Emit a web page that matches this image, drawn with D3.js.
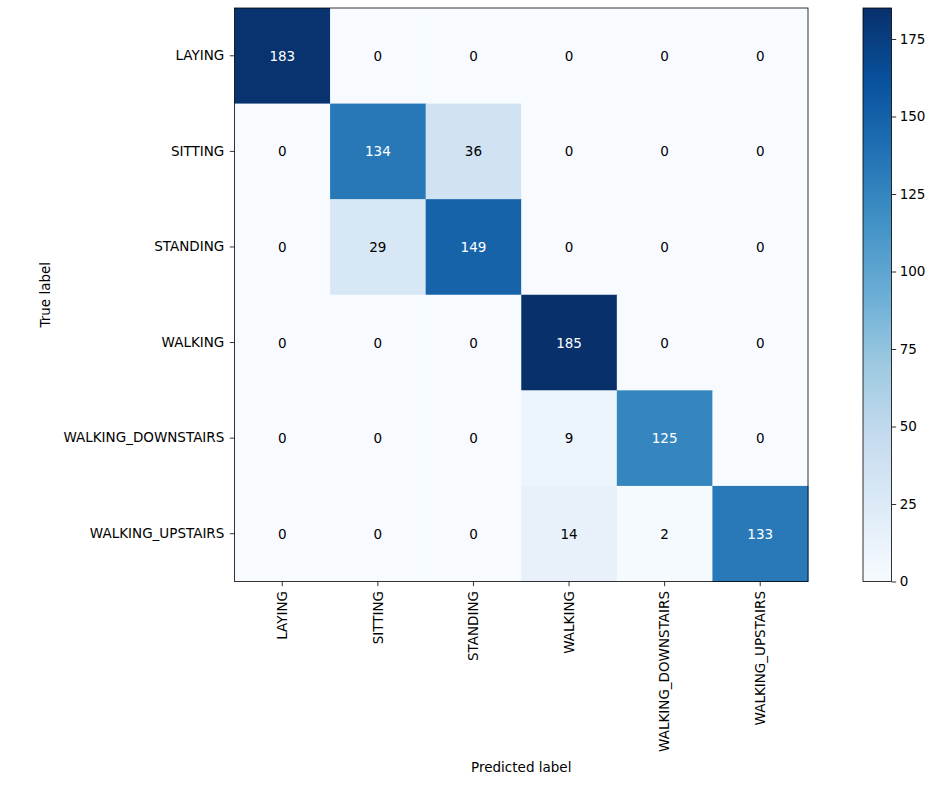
<!DOCTYPE html>
<html>
<head>
<meta charset="utf-8">
<title>Confusion matrix</title>
<script src="https://cdn.jsdelivr.net/npm/d3@7"></script>
<style>
  body { margin: 0; background: #fff; }
  text { font-family: "DejaVu Sans", sans-serif; }
</style>
</head>
<body>
<div id="chart"></div>
<script>
// class names (rows = true label, columns = predicted label)
var labels = ["LAYING", "SITTING", "STANDING", "WALKING", "WALKING_DOWNSTAIRS", "WALKING_UPSTAIRS"];
var row0 = [183, 0, 0, 0, 0, 0];
var row1 = [0, 134, 36, 0, 0, 0];
var row2 = [0, 29, 149, 0, 0, 0];
var row3 = [0, 0, 0, 185, 0, 0];
var row4 = [0, 0, 0, 9, 125, 0];
var row5 = [0, 0, 0, 14, 2, 133];
var matrix = [row0, row1, row2, row3, row4, row5];
var cbTicks = [0, 25, 50, 75, 100, 125, 150, 175];

var width = 942, height = 786;
var plotLeft = 234.5, plotTop = 8, size = 573.5;
var fs = "13.5px";
var vmax = d3.max(matrix, function(r) { return d3.max(r); });

// matplotlib "Blues" is a plain linear ramp over these 9 colours
var blues = ["#f7fbff", "#deebf7", "#c6dbef", "#9ecae1", "#6baed6", "#4292c6", "#2171b5", "#08519c", "#08306b"];
var color = d3.scaleLinear()
  .domain(d3.range(9).map(function(i) { return i / 8 * vmax; }))
  .range(blues)
  .interpolate(d3.interpolateRgb);

var svg = d3.select("#chart").append("svg")
  .attr("width", width)
  .attr("height", height);

var x = d3.scaleBand().domain(labels).range([plotLeft, plotLeft + size]);
var y = d3.scaleBand().domain(labels).range([plotTop, plotTop + size]);

var cells = [];
matrix.forEach(function(r, i) {
  r.forEach(function(v, j) { cells.push({ t: labels[i], p: labels[j], v: v }); });
});

svg.selectAll("rect.cell").data(cells).enter().append("rect")
  .attr("class", "cell")
  .attr("x", function(d) { return x(d.p); })
  .attr("y", function(d) { return y(d.t); })
  .attr("width", x.bandwidth() + 0.5)
  .attr("height", y.bandwidth() + 0.5)
  .attr("fill", function(d) { return color(d.v); });

svg.selectAll("text.val").data(cells).enter().append("text")
  .attr("class", "val")
  .attr("x", function(d) { return x(d.p) + x.bandwidth() / 2; })
  .attr("y", function(d) { return y(d.t) + y.bandwidth() / 2; })
  .attr("text-anchor", "middle")
  .attr("dominant-baseline", "central")
  .style("font-size", fs)
  .attr("fill", function(d) { return d.v > vmax / 2 ? "white" : "black"; })
  .text(function(d) { return d.v; });

// axes
var yAxis = svg.append("g")
  .attr("transform", "translate(" + plotLeft + ",0)")
  .call(d3.axisLeft(y).tickSize(4.7).tickPadding(5.5));
var xAxis = svg.append("g")
  .attr("transform", "translate(0," + (plotTop + size) + ")")
  .call(d3.axisBottom(x).tickSize(4.7).tickPadding(4.5));

xAxis.selectAll("text")
  .attr("transform", "rotate(-90)")
  .attr("text-anchor", "end")
  .attr("x", -9.5)
  .attr("y", 0)
  .attr("dy", "0.35em");

[xAxis, yAxis].forEach(function(g) {
  g.select(".domain").remove();
  g.selectAll("text").style("font-size", fs).style("font-family", "DejaVu Sans, sans-serif").attr("fill", "black");
  g.selectAll("line").attr("stroke", "black").attr("stroke-width", 0.8);
});

svg.append("rect")
  .attr("x", plotLeft).attr("y", plotTop)
  .attr("width", size).attr("height", size)
  .attr("fill", "none").attr("stroke", "black").attr("stroke-width", 0.8);

svg.append("text")
  .attr("transform", "translate(50," + (plotTop + size / 2) + ") rotate(-90)")
  .attr("text-anchor", "middle")
  .style("font-size", fs)
  .text("True label");

svg.append("text")
  .attr("x", plotLeft + size / 2)
  .attr("y", 772)
  .attr("text-anchor", "middle")
  .style("font-size", fs)
  .text("Predicted label");

// colour bar
var cbX = 863, cbW = 28.5;
var cbY = d3.scaleLinear().domain([0, vmax]).range([plotTop + size, plotTop]);

var grad = svg.append("defs").append("linearGradient")
  .attr("id", "cbgrad")
  .attr("x1", 0).attr("y1", 1).attr("x2", 0).attr("y2", 0);
grad.selectAll("stop").data(d3.range(0, 1.0001, 1 / 8)).enter().append("stop")
  .attr("offset", function(d) { return d; })
  .attr("stop-color", function(d) { return color(d * vmax); });

svg.append("rect")
  .attr("x", cbX).attr("y", plotTop)
  .attr("width", cbW).attr("height", size)
  .attr("fill", "url(#cbgrad)")
  .attr("stroke", "black").attr("stroke-width", 0.8);

var cbAxis = svg.append("g")
  .attr("transform", "translate(" + (cbX + cbW) + ",0)")
  .call(d3.axisRight(cbY).tickValues(cbTicks).tickSize(4.7).tickPadding(3.5));
cbAxis.select(".domain").remove();
cbAxis.selectAll("text").style("font-size", fs).style("font-family", "DejaVu Sans, sans-serif").attr("fill", "black");
cbAxis.selectAll("line").attr("stroke", "black").attr("stroke-width", 0.8);
</script>
</body>
</html>
